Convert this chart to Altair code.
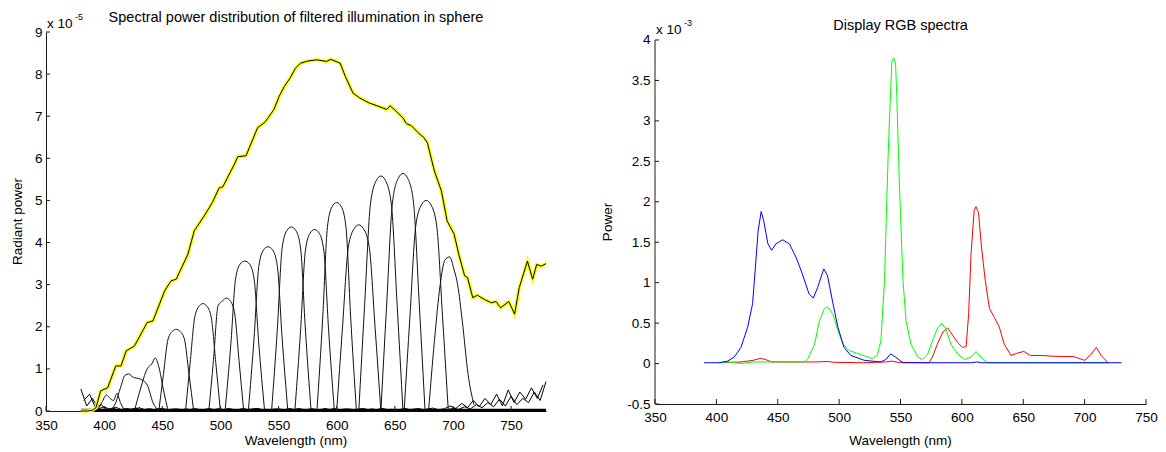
import altair as alt
import pandas as pd

FONT = "Liberation Sans"
FS = 13.5      # tick labels / axis titles
FS_T = 14.5    # panel titles

# ---------------- Left panel (values in units of 1e-5) ----------------
LEFT_TITLE = "Spectral power distribution of filtered illumination in sphere"
LEFT_XTICKS = [350, 400, 450, 500, 550, 600, 650, 700, 750]
LEFT_YTICKS = [0, 1, 2, 3, 4, 5, 6, 7, 8, 9]

SUM_CURVE = [(380, 0), (386, 0), (390, 0.02), (393, 0.08), (397, 0.48), (403, 0.55),
             (410, 1.07), (414.5, 1.07), (419, 1.43), (426, 1.54), (437, 2.1), (442, 2.14),
             (452, 2.85), (457.5, 3.09), (462, 3.13), (472, 3.72), (477.5, 4.28), (486, 4.63),
             (493, 4.95), (499, 5.3), (502, 5.32), (512, 5.86), (515, 6.04), (522, 6.06),
             (532, 6.73), (538, 6.85), (541, 6.96), (546, 7.16), (550.5, 7.47), (555, 7.71),
             (560, 7.91), (564.5, 8.14), (569, 8.26), (575, 8.31), (583, 8.34), (591, 8.30),
             (595, 8.35), (603, 8.26), (607.5, 7.94), (614, 7.55), (620, 7.43), (627.5, 7.32),
             (635.5, 7.24), (643, 7.16), (646, 7.25), (651, 7.12), (657, 6.96), (660, 6.82),
             (664, 6.78), (670, 6.61), (675, 6.49), (678, 6.37), (684, 5.7), (690, 5.23),
             (695, 4.51), (701, 4.2), (705, 3.72), (710, 3.21), (712.5, 3.17), (717, 2.69),
             (721, 2.75), (727, 2.65), (733, 2.57), (737, 2.6), (741, 2.45), (748, 2.6),
             (753, 2.3), (757, 2.93), (764, 3.56), (768.5, 3.13), (772, 3.48), (776, 3.44),
             (780, 3.5)]

FILTERS = {
    "f01": ([394, 398, 402, 405, 408, 411, 414, 418], [0, 0.2, 0.38, 0.3, 0.25, 0.42, 0.2, 0]),
    "f02": ([405, 410, 414, 418, 421, 425, 431, 437, 442, 447], [0, 0.2, 0.55, 0.85, 0.88, 0.8, 0.76, 0.62, 0.2, 0]),
    "f03": ([426, 431, 437, 441, 444, 447, 451, 455], [0, 0.5, 1.0, 1.12, 1.26, 1.05, 0.5, 0]),
    "f04": ([447, 451, 455, 459, 462, 465, 469, 473, 477], [0, 0.87, 1.71, 1.9, 1.94, 1.9, 1.71, 0.87, 0]),
    "f05": ([470, 474, 478, 482, 485, 488, 492, 496, 500], [0, 1.15, 2.24, 2.5, 2.55, 2.5, 2.24, 1.15, 0]),
    "f06": ([490, 494, 498, 502, 505, 508, 512, 516, 520], [0, 1.2, 2.5, 2.62, 2.68, 2.63, 2.36, 1.2, 0]),
    "f07": ([504, 509, 513, 517, 521, 525, 529, 533, 538], [0, 1.6, 3.13, 3.49, 3.56, 3.49, 3.13, 1.6, 0]),
    "f08": ([524, 529, 533, 537, 541, 545, 549, 553, 558], [0, 1.76, 3.43, 3.82, 3.9, 3.82, 3.43, 1.76, 0]),
    "f09": ([544, 549, 553, 557, 561, 565, 569, 573, 578], [0, 1.97, 3.85, 4.28, 4.37, 4.28, 3.85, 1.97, 0]),
    "f10": ([564, 569, 573, 577, 581, 585, 589, 593, 598], [0, 1.94, 3.79, 4.22, 4.31, 4.22, 3.79, 1.94, 0]),
    "f11": ([583, 588, 592, 596, 600, 604, 608, 612, 617], [0, 2.23, 4.36, 4.85, 4.95, 4.85, 4.36, 2.23, 0]),
    "f12": ([600, 605, 610, 615, 619, 623, 628, 633, 638], [0, 1.99, 3.89, 4.33, 4.42, 4.33, 3.89, 1.99, 0]),
    "f13": ([619, 624, 629, 634, 638, 642, 647, 652, 657], [0, 2.51, 4.91, 5.47, 5.58, 5.47, 4.91, 2.51, 0]),
    "f14": ([638, 643, 648, 653, 657, 661, 666, 671, 676], [0, 2.54, 4.96, 5.53, 5.64, 5.53, 4.96, 2.54, 0]),
    "f15": ([658, 663, 668, 673, 677, 681, 686, 691, 696], [0, 2.25, 4.4, 4.9, 5.0, 4.9, 4.4, 2.25, 0]),
    "f16": ([679, 684, 689, 693, 697, 701, 704, 708, 713, 718], [0, 1.65, 3.0, 3.58, 3.66, 3.35, 3.0, 2.14, 0.87, 0.15]),
}

NOISE_A_WL = list(range(380, 781, 5))
NOISE_A = [0.52, 0.12, 0.3, 0.05, 0.1, 0.04, 0.09, 0.03, 0.06, 0.02, 0.08, 0.03, 0.05, 0.02,
           0.06, 0.03, 0.04, 0.02, 0.05, 0.03, 0.04, 0.02, 0.06, 0.03, 0.05, 0.02, 0.04, 0.03,
           0.06, 0.02, 0.05, 0.03, 0.04, 0.02, 0.05, 0.03, 0.06, 0.02, 0.04, 0.03, 0.05, 0.02,
           0.06, 0.03, 0.04, 0.02, 0.05, 0.03, 0.04, 0.02, 0.05, 0.03, 0.06, 0.02, 0.04, 0.03,
           0.05, 0.02, 0.06, 0.03, 0.05, 0.02, 0.04, 0.03, 0.06, 0.04, 0.1, 0.05, 0.15, 0.08,
           0.2, 0.1, 0.28, 0.12, 0.35, 0.15, 0.3, 0.2, 0.45, 0.25, 0.7]
NOISE_B_WL = [w + 2.5 for w in range(380, 780, 5)]
NOISE_B = [0.25, 0.4, 0.08, 0.15, 0.03, 0.07, 0.02, 0.05, 0.04, 0.07, 0.02, 0.05, 0.03, 0.06,
           0.02, 0.04, 0.05, 0.03, 0.02, 0.06, 0.03, 0.04, 0.02, 0.05, 0.03, 0.06, 0.02, 0.04,
           0.03, 0.05, 0.06, 0.02, 0.03, 0.05, 0.02, 0.04, 0.03, 0.06, 0.02, 0.05, 0.03, 0.04,
           0.02, 0.06, 0.03, 0.05, 0.02, 0.04, 0.06, 0.03, 0.02, 0.05, 0.03, 0.04, 0.02, 0.06,
           0.03, 0.05, 0.02, 0.04, 0.07, 0.03, 0.05, 0.12, 0.06, 0.18, 0.08, 0.25, 0.1, 0.3,
           0.15, 0.4, 0.12, 0.5, 0.2, 0.45, 0.28, 0.55, 0.3, 0.62]
BASE_BAND = [(380, 0.015), (780, 0.015)]

# ---------------- Right panel (values in units of 1e-3) ----------------
RIGHT_TITLE = "Display RGB spectra"
RIGHT_XTICKS = [350, 400, 450, 500, 550, 600, 650, 700, 750]
RIGHT_YTICKS = [-0.5, 0, 0.5, 1, 1.5, 2, 2.5, 3, 3.5, 4]

RED = [(402, 0.01), (420, 0.02), (430, 0.04), (436, 0.065), (440, 0.05), (445, 0.02), (480, 0.02),
       (491, 0.025), (496, 0.015), (520, 0.01), (538, 0.02), (543, 0.03), (548, 0.015), (573, 0.01),
       (576, 0.08), (580, 0.24), (584.5, 0.39), (588.5, 0.44), (592.5, 0.35), (596.5, 0.26),
       (600.5, 0.2), (603.5, 0.21), (605.5, 0.61), (607.5, 1.36), (610, 1.89), (611.5, 1.94),
       (613.5, 1.87), (616, 1.44), (619, 1.03), (622.5, 0.68), (626.5, 0.57), (630.5, 0.45),
       (634.5, 0.24), (640, 0.1), (645.5, 0.13), (650.5, 0.15), (656, 0.1), (664.5, 0.1),
       (675, 0.09), (691.5, 0.085), (700, 0.04), (705, 0.11), (709.5, 0.2), (713.5, 0.1), (719, 0.01)]
GREEN = [(402, 0.01), (410, 0.02), (420, 0.0), (430, 0.02), (472, 0.02), (474.5, 0.06), (480, 0.24),
         (484, 0.53), (488, 0.68), (490.5, 0.7), (495, 0.61), (499, 0.41), (503, 0.24), (508, 0.16),
         (518, 0.11), (527, 0.06), (531, 0.1), (534, 0.28), (537, 1.03), (538.5, 1.85), (540, 2.6),
         (541.5, 3.2), (543, 3.74), (544.5, 3.78), (546, 3.7), (547, 3.3), (549, 2.26), (552, 1.03),
         (554.5, 0.53), (558.5, 0.24), (564, 0.08), (568, 0.05), (572, 0.11), (576, 0.28), (580, 0.43),
         (583.5, 0.5), (587, 0.43), (591, 0.24), (596.5, 0.12), (602, 0.05), (607.5, 0.08),
         (611.5, 0.15), (615.5, 0.08), (621, 0.01), (720, 0.01)]
BLUE = [(390, 0.01), (402, 0.01), (409, 0.03), (414.5, 0.08), (420, 0.2), (425.5, 0.45), (429.5, 0.74),
        (432, 1.23), (434, 1.64), (436.5, 1.88), (438.5, 1.77), (442, 1.48), (445, 1.4), (448.5, 1.48),
        (454, 1.53), (459.5, 1.48), (465, 1.31), (470, 1.11), (475.5, 0.86), (479, 0.81), (482.5, 0.94),
        (487.5, 1.17), (490.5, 1.09), (495, 0.74), (499, 0.45), (504, 0.2), (509.5, 0.1), (520.5, 0.04),
        (534, 0.02), (538, 0.05), (542, 0.12), (546, 0.08), (552, 0.01), (608, 0.01), (612, 0.02),
        (616, 0.01), (730, 0.01)]

# ---------------- geometry ----------------
LW, LH = 500, 379
RW, RH = 491, 372
R_YMAX = 4.0989  # top of right plot area (axis box starts at 4)
AX = "#1a1a1a"

assert len(NOISE_A) == len(NOISE_A_WL), len(NOISE_A)
assert len(NOISE_B) == len(NOISE_B_WL), len(NOISE_B)


def one():
    return alt.Data(values=[{}])


def text(x, y, s, size=FS, align="center", baseline="middle", angle=0):
    kw = dict(font=FONT, fontSize=size, color="#000", align=align, baseline=baseline, text=s)
    if angle:
        kw["angle"] = angle
    return alt.Chart(one()).mark_text(**kw).encode(x=alt.value(x), y=alt.value(y))


def marker(x, y):
    return alt.Chart(one()).mark_point(size=1, opacity=0, filled=True, strokeWidth=0).encode(
        x=alt.value(x), y=alt.value(y))


# ---------- left chart ----------
lx_scale = alt.Scale(domain=[350, 780], nice=False, zero=False)
ly_scale = alt.Scale(domain=[0, 9], nice=False, zero=False)
lx_axis = alt.Axis(values=LEFT_XTICKS, title=None, grid=False, ticks=False, tickSize=0,
                   labelPadding=7, labelFont=FONT, labelFontSize=FS, labelColor="#000",
                   domainColor=AX, labelFlush=False)
ly_axis = alt.Axis(values=LEFT_YTICKS, title=None, grid=False, ticks=False, tickSize=0,
                   labelPadding=4, labelFont=FONT, labelFontSize=FS, labelColor="#000",
                   domainColor=AX, labelFlush=False)
LX = lambda f: alt.X(f, scale=lx_scale, axis=lx_axis)
LY = lambda f: alt.Y(f, scale=ly_scale, axis=ly_axis)

rows = []
for w, v in zip(NOISE_A_WL, NOISE_A):
    rows.append({"id": "nA", "wl": w, "v": v})
for w, v in zip(NOISE_B_WL, NOISE_B):
    rows.append({"id": "nB", "wl": w, "v": v})
noise_df = pd.DataFrame(rows)
band_df = pd.DataFrame(BASE_BAND, columns=["wl", "v"])
frows = []
for k, (ws, vs) in FILTERS.items():
    for w, v in zip(ws, vs):
        frows.append({"id": k, "wl": w, "v": v})
filt_df = pd.DataFrame(frows)
sum_df = pd.DataFrame(SUM_CURVE, columns=["wl", "v"])

noise = alt.Chart(noise_df).mark_line(color="#000", strokeWidth=1).encode(
    x=LX("wl:Q"), y=LY("v:Q"), detail="id:N")
band = alt.Chart(band_df).mark_line(color="#000", strokeWidth=3).encode(x=LX("wl:Q"), y=LY("v:Q"))
filt = alt.Chart(filt_df).mark_line(color="#111", strokeWidth=1, interpolate="monotone").encode(
    x=LX("wl:Q"), y=LY("v:Q"), detail="id:N")
sum_y = alt.Chart(sum_df).mark_line(color="#FFFF00", strokeWidth=3.5).encode(x=LX("wl:Q"), y=LY("v:Q"))
sum_k = alt.Chart(sum_df).mark_line(color="#000", strokeWidth=1).encode(x=LX("wl:Q"), y=LY("v:Q"))

lyt = alt.Chart(pd.DataFrame({"t": LEFT_YTICKS})).mark_rule(color=AX, strokeWidth=1).encode(
    y=LY("t:Q"), x=alt.value(0), x2=alt.value(4))
lxt = alt.Chart(pd.DataFrame({"t": LEFT_XTICKS})).mark_rule(color=AX, strokeWidth=1).encode(
    x=LX("t:Q"), y=alt.value(LH), y2=alt.value(LH - 5))

left = alt.layer(
    noise, band, filt, sum_y, sum_k, lyt, lxt,
    text(LW / 2, -14, LEFT_TITLE, size=FS_T),
    text(1, -4, "x 10", align="left", baseline="alphabetic"),
    text(29, -12, "-5", size=9, align="left", baseline="alphabetic"),
    text(LW / 2, 409, "Wavelength (nm)"),
    text(-28, LH / 2, "Radiant power", angle=270),
    marker(-37, -23),
).properties(width=LW, height=LH)

# ---------- right chart ----------
rx_scale = alt.Scale(domain=[350, 750], nice=False, zero=False)
ry_scale = alt.Scale(domain=[-0.5, R_YMAX], nice=False, zero=False)
rx_axis = alt.Axis(values=RIGHT_XTICKS, title=None, grid=False, ticks=False, tickSize=0,
                   labelPadding=6, labelFont=FONT, labelFontSize=FS, labelColor="#000",
                   domainColor=AX, labelFlush=False)
ry_axis = alt.Axis(values=RIGHT_YTICKS, title=None, grid=False, ticks=False, tickSize=0,
                   labelPadding=5, labelFont=FONT, labelFontSize=FS, labelColor="#000",
                   domain=False, labelFlush=False, labelExpr="datum.value + ''")
RX = lambda f: alt.X(f, scale=rx_scale, axis=rx_axis)
RY = lambda f: alt.Y(f, scale=ry_scale, axis=ry_axis)

srows = []
for name, series in (("r", RED), ("g", GREEN), ("b", BLUE)):
    for w, v in series:
        srows.append({"c": name, "wl": w, "v": v})
rgb_df = pd.DataFrame(srows)


def rgb_line(name, color):
    return alt.Chart(rgb_df).transform_filter(alt.datum.c == name).mark_line(
        color=color, strokeWidth=1).encode(x=RX("wl:Q"), y=RY("v:Q"))


r_axisline = alt.Chart(pd.DataFrame({"a": [-0.5], "b": [4.0]})).mark_rule(color=AX, strokeWidth=1).encode(
    x=alt.value(0), y=RY("a:Q"), y2="b:Q")
ryt = alt.Chart(pd.DataFrame({"t": RIGHT_YTICKS})).mark_rule(color=AX, strokeWidth=1).encode(
    y=RY("t:Q"), x=alt.value(0), x2=alt.value(4))
rxt = alt.Chart(pd.DataFrame({"t": RIGHT_XTICKS})).mark_rule(color=AX, strokeWidth=1).encode(
    x=RX("t:Q"), y=alt.value(RH), y2=alt.value(RH - 5))

right = alt.layer(
    rgb_line("r", "#FF0000"), rgb_line("g", "#00FF00"), rgb_line("b", "#0000FF"),
    r_axisline, ryt, rxt,
    text(RW / 2, -6, RIGHT_TITLE, size=FS_T),
    text(1, 2, "x 10", align="left", baseline="alphabetic"),
    text(29, -6, "-3", size=9, align="left", baseline="alphabetic"),
    text(RW / 2, 409, "Wavelength (nm)"),
    text(-47, 190, "Power", angle=270),
).properties(width=RW, height=RH)

chart = alt.hconcat(left, right, spacing=109, bounds="flush", padding=0).configure_view(stroke=None)

chart.save("out.html", embed_options={"renderer": "svg", "actions": False})
